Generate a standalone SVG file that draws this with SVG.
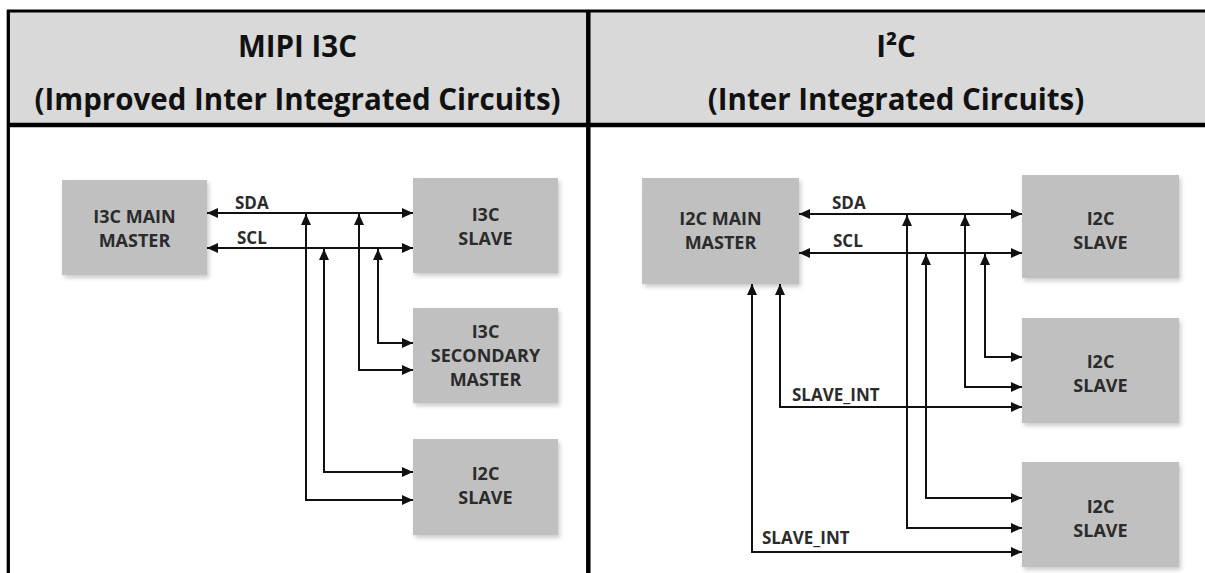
<svg xmlns="http://www.w3.org/2000/svg" width="1205" height="573" viewBox="0 0 1205 573">
<defs>
<style>
.box{fill:#c0c0c0;filter:url(#sh)}
.bt{font-family:"Open Sans","Liberation Sans",sans-serif;font-weight:700;font-size:18px;fill:#2b2b2b;text-anchor:middle}
.lbl{font-family:"Open Sans","Liberation Sans",sans-serif;font-weight:700;font-size:17px;fill:#2b2b2b}
.hd{font-family:"Open Sans","Liberation Sans",sans-serif;font-weight:700;font-size:29.5px;fill:#111;text-anchor:middle}
.w{fill:none;stroke:#111;stroke-width:2;marker-start:url(#ah);marker-end:url(#ah)}
</style>
<marker id="ah" markerUnits="userSpaceOnUse" markerWidth="11" markerHeight="10" refX="11" refY="5" orient="auto-start-reverse" viewBox="0 0 11 10"><path d="M0,0 L11,5 L0,10 z" fill="#111"/></marker>
<filter id="sh" x="-10%" y="-10%" width="130%" height="130%"><feDropShadow dx="2" dy="3" stdDeviation="2" flood-color="#000" flood-opacity="0.2"/></filter>
</defs>
<rect width="1205" height="573" fill="#fff"/>
<g id="frame">
<rect x="8" y="11" width="1197" height="114" fill="#d9d9d9"/>
<line x1="7" y1="11" x2="1205" y2="11" stroke="#000" stroke-width="3"/>
<line x1="7" y1="125" x2="1205" y2="125" stroke="#000" stroke-width="4.5"/>
<line x1="8.3" y1="10" x2="8.3" y2="573" stroke="#000" stroke-width="3.3"/>
<line x1="588.3" y1="10" x2="588.3" y2="573" stroke="#000" stroke-width="4.5"/>
<text class="hd" x="297.5" y="57">MIPI I3C</text>
<text class="hd" x="297.5" y="110">(Improved Inter Integrated Circuits)</text>
<text class="hd" x="896" y="57">I²C</text>
<text class="hd" x="896" y="110">(Inter Integrated Circuits)</text>
</g>
<g id="connectors">
<path class="w" d="M207,213 H413"/>
<path class="w" d="M207,248 H413"/>
<path class="w" d="M306,214 V500 H413"/>
<path class="w" d="M324,249 V472 H413"/>
<path class="w" d="M359,214 V370 H413"/>
<path class="w" d="M378,249 V343 H413"/>
<path class="w" d="M799,214 H1022"/>
<path class="w" d="M799,253 H1022"/>
<path class="w" d="M907,215 V528 H1022"/>
<path class="w" d="M926,254 V498 H1022"/>
<path class="w" d="M965,215 V387 H1022"/>
<path class="w" d="M985,254 V357 H1022"/>
<path class="w" d="M780,284 V407 H1022"/>
<path class="w" d="M752,284 V552 H1022"/>
<text class="lbl" x="235" y="209">SDA</text>
<text class="lbl" x="237" y="244">SCL</text>
<text class="lbl" x="832" y="209">SDA</text>
<text class="lbl" x="833" y="247">SCL</text>
<text class="lbl" x="792" y="401">SLAVE_INT</text>
<text class="lbl" x="762" y="544">SLAVE_INT</text>
</g>
<g id="i3c-main-master"><rect class="box" x="62" y="180" width="145" height="95"/><text class="bt" x="134.5" y="223">I3C MAIN</text><text class="bt" x="134.5" y="247">MASTER</text></g>
<g id="i3c-slave"><rect class="box" x="413" y="178" width="145" height="95"/><text class="bt" x="485.5" y="221">I3C</text><text class="bt" x="485.5" y="245">SLAVE</text></g>
<g id="i3c-secondary-master"><rect class="box" x="413" y="308" width="145" height="95"/><text class="bt" x="485.5" y="338">I3C</text><text class="bt" x="485.5" y="362">SECONDARY</text><text class="bt" x="485.5" y="386">MASTER</text></g>
<g id="i3c-side-i2c-slave"><rect class="box" x="413" y="439" width="145" height="96"/><text class="bt" x="485.5" y="480">I2C</text><text class="bt" x="485.5" y="504">SLAVE</text></g>
<g id="i2c-main-master"><rect class="box" x="642" y="178" width="157" height="106"/><text class="bt" x="720.5" y="225">I2C MAIN</text><text class="bt" x="720.5" y="249">MASTER</text></g>
<g id="i2c-slave-1"><rect class="box" x="1022" y="175" width="157" height="103"/><text class="bt" x="1100.5" y="224.5">I2C</text><text class="bt" x="1100.5" y="248.5">SLAVE</text></g>
<g id="i2c-slave-2"><rect class="box" x="1022" y="318" width="157" height="105"/><text class="bt" x="1100.5" y="368">I2C</text><text class="bt" x="1100.5" y="392">SLAVE</text></g>
<g id="i2c-slave-3"><rect class="box" x="1022" y="462" width="157" height="105"/><text class="bt" x="1100.5" y="512.5">I2C</text><text class="bt" x="1100.5" y="536.5">SLAVE</text></g>
</svg>
